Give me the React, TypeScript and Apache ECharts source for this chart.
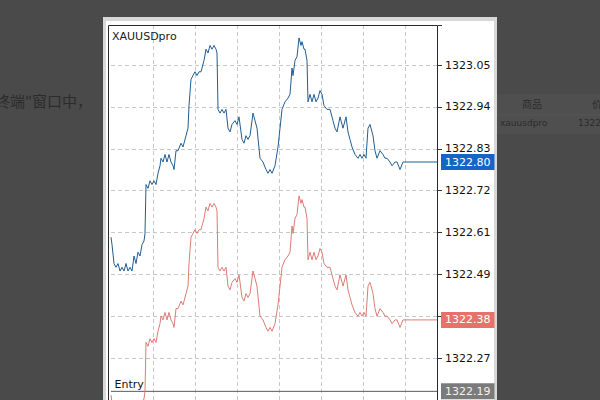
import { useEffect, useRef } from 'react';
import * as echarts from 'echarts';

const SYMBOL = 'XAUUSDpro';
const ENTRY_NAME = 'Entry';
const ENTRY = 1322.19;

// tick index (one per pixel-ish step along the tick chart)
const TICKS = [
  0, 1, 3, 5, 7, 9, 11, 13, 15, 17,
  19, 21, 23, 25, 27, 29, 31, 33, 34, 35,
  37, 39, 41, 43, 45, 47, 49, 50, 52, 54,
  56, 58, 60, 62, 63, 65, 67, 70, 72, 75,
  77, 78, 80, 82, 84, 86, 88, 90, 93, 95,
  97, 99, 101, 103, 105, 106, 107, 109, 111, 113,
  115, 117, 119, 121, 124, 126, 128, 131, 133, 135,
  137, 139, 142, 144, 146, 149, 152, 155, 157, 159,
  161, 164, 167, 169, 171, 174, 177, 179, 181, 182,
  184, 186, 188, 190, 191, 193, 194, 196, 197, 199,
  201, 203, 205, 207, 209, 211, 213, 216, 219, 222,
  224, 226, 229, 232, 235, 237, 239, 241, 244, 247,
  249, 251, 253, 255, 257, 259, 262, 264, 266, 269,
  272, 274, 276, 279, 281, 284, 286, 289, 292, 294,
];

const BLUE = [
  1322.60, 1322.58, 1322.53, 1322.52, 1322.53, 1322.51, 1322.52, 1322.51, 1322.53, 1322.51,
  1322.52, 1322.51, 1322.55, 1322.53, 1322.56, 1322.55, 1322.58, 1322.59, 1322.61, 1322.74,
  1322.73, 1322.75, 1322.74, 1322.75, 1322.74, 1322.77, 1322.79, 1322.81, 1322.80, 1322.82,
  1322.80, 1322.82, 1322.80, 1322.79, 1322.78, 1322.83, 1322.83, 1322.85, 1322.84, 1322.87,
  1322.89, 1322.95, 1323.02, 1323.03, 1323.04, 1323.03, 1323.04, 1323.04, 1323.07, 1323.10,
  1323.09, 1323.11, 1323.10, 1323.11, 1323.10, 1323.09, 1322.94, 1322.93, 1322.94, 1322.93,
  1322.94, 1322.89, 1322.88, 1322.90, 1322.91, 1322.90, 1322.92, 1322.86, 1322.85, 1322.87,
  1322.86, 1322.87, 1322.93, 1322.91, 1322.89, 1322.81, 1322.80, 1322.78, 1322.77, 1322.78,
  1322.77, 1322.79, 1322.84, 1322.89, 1322.94, 1322.96, 1322.97, 1322.98, 1323.05, 1323.03,
  1323.07, 1323.08, 1323.13, 1323.11, 1323.12, 1323.10, 1323.10, 1323.07, 1322.96, 1322.98,
  1322.96, 1322.98, 1322.96, 1322.97, 1322.99, 1322.98, 1322.95, 1322.94, 1322.94, 1322.91,
  1322.89, 1322.88, 1322.92, 1322.89, 1322.92, 1322.88, 1322.86, 1322.84, 1322.82, 1322.81,
  1322.82, 1322.81, 1322.82, 1322.81, 1322.89, 1322.90, 1322.87, 1322.83, 1322.81, 1322.83,
  1322.82, 1322.81, 1322.81, 1322.80, 1322.79, 1322.80, 1322.80, 1322.78, 1322.80, 1322.80,
];

const RED = [
  1322.18, 1322.16, 1322.11, 1322.10, 1322.11, 1322.09, 1322.10, 1322.09, 1322.11, 1322.09,
  1322.10, 1322.09, 1322.13, 1322.11, 1322.14, 1322.13, 1322.16, 1322.17, 1322.19, 1322.32,
  1322.31, 1322.33, 1322.32, 1322.33, 1322.32, 1322.35, 1322.37, 1322.39, 1322.38, 1322.40,
  1322.38, 1322.40, 1322.38, 1322.37, 1322.36, 1322.41, 1322.41, 1322.43, 1322.42, 1322.45,
  1322.47, 1322.53, 1322.60, 1322.61, 1322.62, 1322.61, 1322.62, 1322.62, 1322.65, 1322.68,
  1322.67, 1322.69, 1322.68, 1322.69, 1322.68, 1322.67, 1322.52, 1322.51, 1322.52, 1322.51,
  1322.52, 1322.47, 1322.46, 1322.48, 1322.49, 1322.48, 1322.50, 1322.44, 1322.43, 1322.45,
  1322.44, 1322.45, 1322.51, 1322.49, 1322.47, 1322.39, 1322.38, 1322.36, 1322.35, 1322.36,
  1322.35, 1322.37, 1322.42, 1322.47, 1322.52, 1322.54, 1322.55, 1322.56, 1322.63, 1322.61,
  1322.65, 1322.66, 1322.71, 1322.69, 1322.70, 1322.68, 1322.68, 1322.65, 1322.54, 1322.56,
  1322.54, 1322.56, 1322.54, 1322.55, 1322.57, 1322.56, 1322.53, 1322.52, 1322.52, 1322.49,
  1322.47, 1322.46, 1322.50, 1322.47, 1322.50, 1322.46, 1322.44, 1322.42, 1322.40, 1322.39,
  1322.40, 1322.39, 1322.40, 1322.39, 1322.47, 1322.48, 1322.45, 1322.41, 1322.39, 1322.41,
  1322.40, 1322.39, 1322.39, 1322.38, 1322.37, 1322.38, 1322.38, 1322.36, 1322.38, 1322.38,
];

// price-scale labels (grid rows, bottom to top)
const Y_LABELS = ['1322.27', '1322.38', '1322.49', '1322.61', '1322.72', '1322.83', '1322.94', '1323.05'];

const Y_MIN = 1322.167;
const Y_MAX = 1323.1644;
const X_MAX = 327;
const X_STEP = 42;
const GRID_ROWS = 8.958;

export default function App() {
  const ref = useRef<HTMLDivElement>(null);

  useEffect(() => {
    if (!ref.current) return;
    const chart = echarts.init(ref.current, null, { renderer: 'svg' });
    const font = 'DejaVu Sans';
    const blueData = TICKS.map((t, i) => [t, BLUE[i]]);
    const redData = TICKS.map((t, i) => [t, RED[i]]);
    const lastT = TICKS[TICKS.length - 1];
    const lastBlue = BLUE[BLUE.length - 1];
    const lastRed = RED[RED.length - 1];

    const boxLabel = (bg: string, fg: string) => ({
      show: true,
      formatter: (p: any) => Number(p.value[1]).toFixed(2),
      backgroundColor: bg,
      color: fg,
      fontFamily: font,
      fontSize: 11,
      lineHeight: 12,
      padding: [2, 4, 2, 4],
      distance: 3,
    });

    chart.setOption({
      animation: false,
      backgroundColor: '#4a4a4a',
      textStyle: { fontFamily: font },
      title: {
        text: SYMBOL,
        left: 112,
        top: 31,
        padding: 0,
        textStyle: { fontFamily: font, fontSize: 11, fontWeight: 'normal', color: '#1a1a1a' },
      },
      graphic: {
        elements: [
          { type: 'text', z: 0, left: -5, top: 93, style: { text: '终端"窗口中，', fontFamily: 'Noto Sans CJK SC', fontSize: 15, fill: '#2c2c2c' } },
          { type: 'rect', z: 0, shape: { x: 497, y: 94, width: 110, height: 40 }, style: { fill: '#4f4f4f' } },
          { type: 'line', z: 0, shape: { x1: 497, y1: 115, x2: 600, y2: 115 }, style: { stroke: '#575757', lineWidth: 1 } },
          { type: 'text', z: 0, left: 522, top: 98, style: { text: '商品', fontFamily: 'Noto Sans CJK SC', fontSize: 10, fill: '#2c2c2c' } },
          { type: 'text', z: 0, left: 592, top: 98, style: { text: '价', fontFamily: 'Noto Sans CJK SC', fontSize: 10, fill: '#2c2c2c' } },
          { type: 'text', z: 0, left: 500, top: 118, style: { text: 'xauusdpro', fontFamily: font, fontSize: 9, fill: '#2c2c2c' } },
          { type: 'text', z: 0, left: 578, top: 118, style: { text: '1322', fontFamily: font, fontSize: 9, fill: '#2c2c2c' } },
          { type: 'rect', z: 0, shape: { x: 103, y: 17, width: 394, height: 400 }, style: { fill: '#d8d8d8' } },
          { type: 'rect', z: 0, shape: { x: 106, y: 21, width: 388, height: 400 }, style: { fill: '#ffffff' } },
          { type: 'rect', z: 20, shape: { x: 108.5, y: 25.5, width: 329, height: 380 }, style: { fill: 'none', stroke: '#2a2a2a', lineWidth: 1 } },
        ],
      },
      grid: { left: 111, right: 162, top: 25, bottom: 0, containLabel: false },
      xAxis: {
        type: 'value',
        min: 0,
        max: X_MAX,
        interval: X_STEP,
        z: 5,
        axisLine: { show: false },
        axisTick: { show: false },
        axisLabel: { show: false },
        splitLine: { show: true, showMinLine: false, showMaxLine: false, lineStyle: { color: '#c8c8c8', type: [4, 3], width: 1 } },
      },
      yAxis: [
        { type: 'value', min: Y_MIN, max: Y_MAX, show: false, splitLine: { show: false } },
        {
          type: 'value',
          position: 'right',
          min: 0,
          max: GRID_ROWS,
          interval: 1,
          z: 5,
          axisLine: { show: false },
          axisTick: { show: true, length: 4, lineStyle: { color: '#333' } },
          axisLabel: {
            margin: 7,
            fontFamily: font,
            fontSize: 11,
            color: '#111',
            formatter: (v: number) => (Number.isInteger(v) && v >= 1 && v <= Y_LABELS.length ? Y_LABELS[v - 1] : ''),
          },
          splitLine: { show: true, showMinLine: false, showMaxLine: false, lineStyle: { color: '#c8c8c8', type: [4, 3], width: 1 } },
        },
      ],
      series: [
        {
          name: 'entry',
          type: 'line',
          yAxisIndex: 0,
          z: 6,
          symbol: 'circle',
          symbolSize: 1,
          showSymbol: true,
          itemStyle: { color: 'rgba(0,0,0,0)' },
          lineStyle: { color: '#5a5a5a', width: 1 },
          data: [
            { value: [0, ENTRY], label: { show: true, formatter: ENTRY_NAME, position: 'right', distance: 3, offset: [0, -7], color: '#111', fontFamily: font, fontSize: 11 } },
            [X_MAX, ENTRY],
          ],
          endLabel: boxLabel('#7b7b7b', '#f2f2f2'),
          silent: true,
        },
        {
          name: 'red',
          type: 'line',
          yAxisIndex: 0,
          z: 7,
          clip: true,
          symbol: 'none',
          lineStyle: { color: '#de7b74', width: 1 },
          data: redData,
          silent: true,
        },
        {
          name: 'blue',
          type: 'line',
          yAxisIndex: 0,
          z: 7,
          clip: true,
          symbol: 'none',
          lineStyle: { color: '#225d91', width: 1 },
          data: blueData,
          silent: true,
        },
        {
          name: 'redLast',
          type: 'line',
          yAxisIndex: 0,
          z: 8,
          symbol: 'none',
          lineStyle: { color: '#de7b74', width: 1 },
          data: [[lastT, lastRed], [X_MAX, lastRed]],
          endLabel: boxLabel('#e6736b', '#ffffff'),
          silent: true,
        },
        {
          name: 'blueLast',
          type: 'line',
          yAxisIndex: 0,
          z: 8,
          symbol: 'none',
          lineStyle: { color: '#225d91', width: 1 },
          data: [[lastT, lastBlue], [X_MAX, lastBlue]],
          endLabel: boxLabel('#1565c8', '#ffffff'),
          silent: true,
        },
      ],
    });

    return () => chart.dispose();
  }, []);

  return <div ref={ref} style={{ position: 'fixed', left: 0, top: 0, width: 600, height: 400 }} />;
}
